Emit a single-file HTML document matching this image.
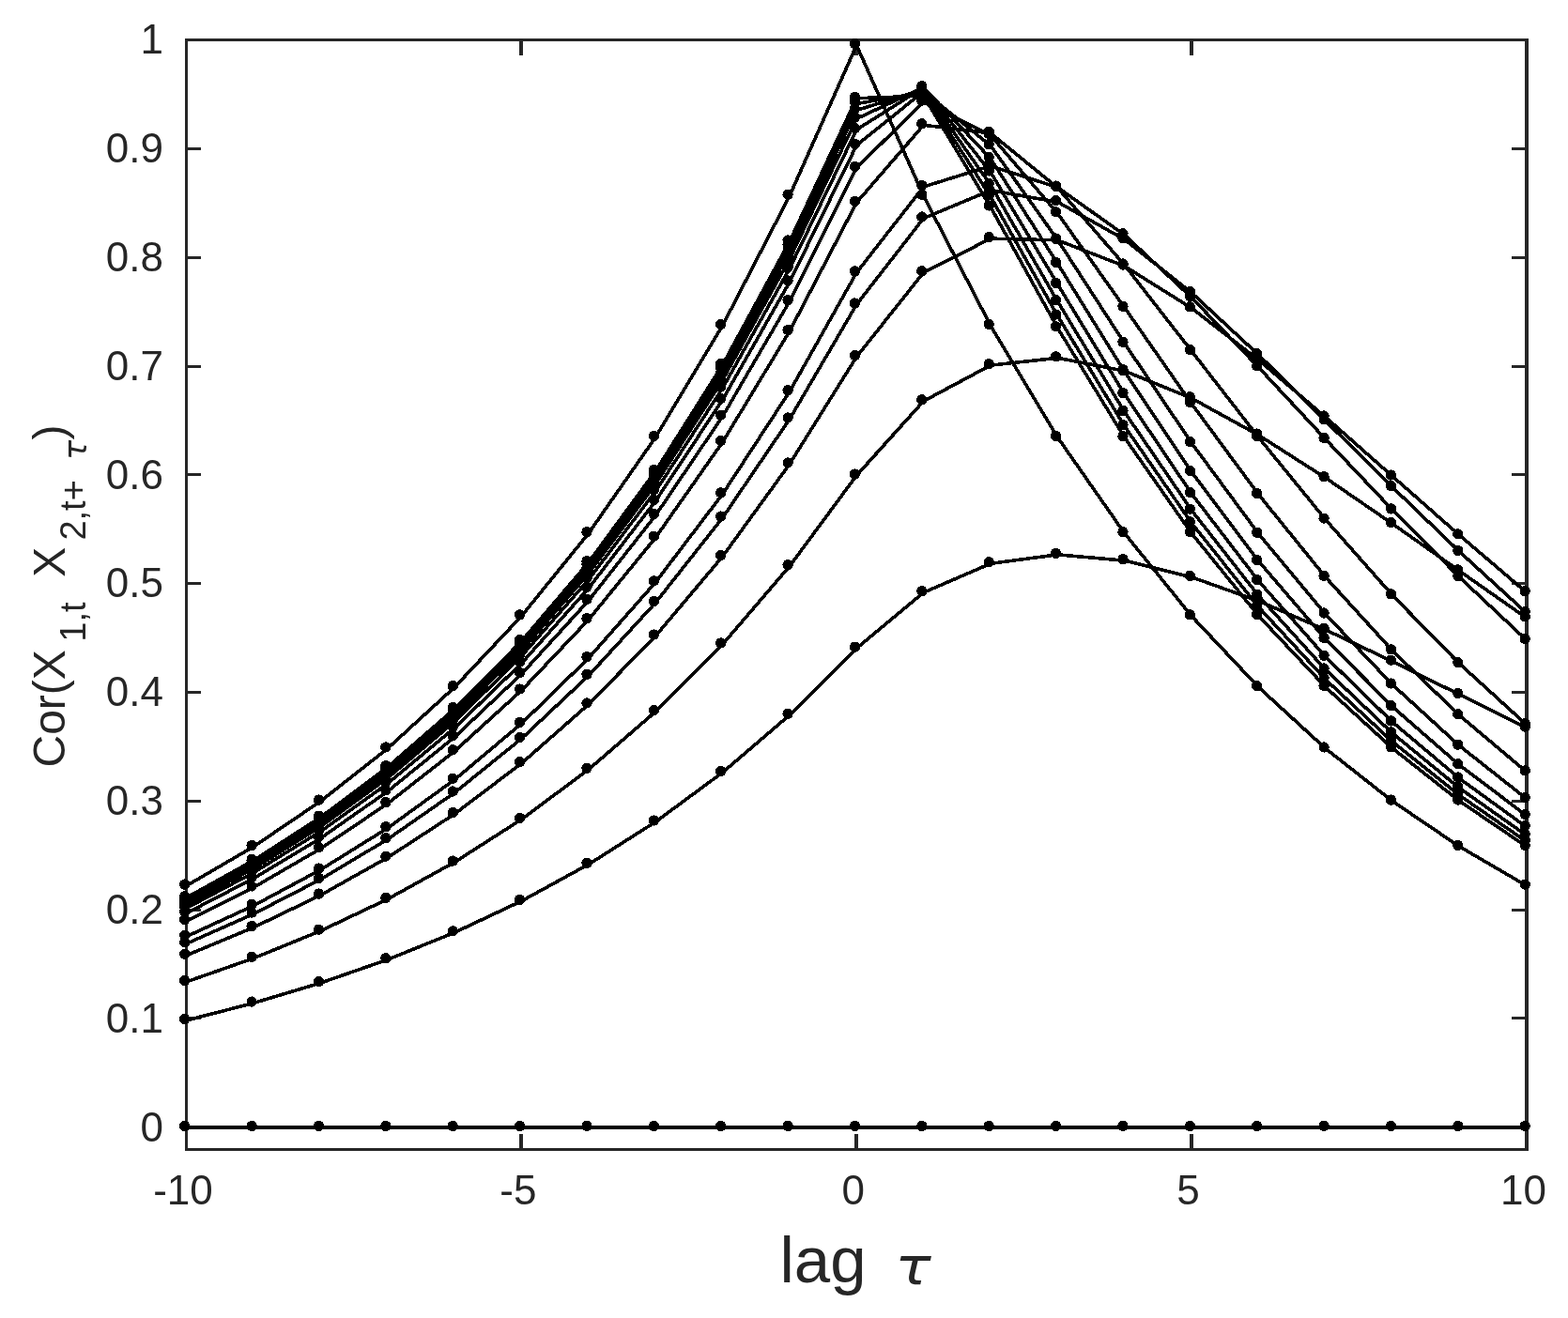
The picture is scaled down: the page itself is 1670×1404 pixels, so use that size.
<!DOCTYPE html>
<html lang="en">
<head>
<meta charset="utf-8">
<title>Cross-correlation vs lag</title>
<style>
html,body{margin:0;padding:0;background:#fff;}
body{width:1670px;height:1404px;overflow:hidden;}
svg{display:block;}
text{font-family:"Liberation Sans","DejaVu Sans",sans-serif;fill:#262626;}
.tk{font-size:44px;}
.ln{stroke:#000;stroke-width:3.6;fill:none;stroke-linejoin:miter;stroke-linecap:butt;}
.dt{fill:#000;}
</style>
</head>
<body>
<svg width="1670" height="1404" viewBox="0 0 1670 1404">
<rect x="0" y="0" width="1670" height="1404" fill="#fff"/>
<g fill="#262626" shape-rendering="crispEdges">
<rect x="197" y="41" width="1431" height="3"/>
<rect x="197" y="1223" width="1431" height="3"/>
<rect x="197" y="41" width="3" height="1185"/>
<rect x="1624" y="41" width="4" height="1185"/>
<rect x="553" y="1208" width="4" height="15"/><rect x="553" y="44" width="4" height="15"/>
<rect x="910" y="1208" width="4" height="15"/><rect x="910" y="44" width="4" height="15"/>
<rect x="1267" y="1208" width="4" height="15"/><rect x="1267" y="44" width="4" height="15"/>
<rect x="200" y="1199" width="14" height="3"/><rect x="1610" y="1199" width="14" height="3"/>
<rect x="200" y="1083" width="14" height="3"/><rect x="1610" y="1083" width="14" height="3"/>
<rect x="200" y="968" width="14" height="3"/><rect x="1610" y="968" width="14" height="3"/>
<rect x="200" y="852" width="14" height="3"/><rect x="1610" y="852" width="14" height="3"/>
<rect x="200" y="736" width="14" height="3"/><rect x="1610" y="736" width="14" height="3"/>
<rect x="200" y="620" width="14" height="3"/><rect x="1610" y="620" width="14" height="3"/>
<rect x="200" y="504" width="14" height="3"/><rect x="1610" y="504" width="14" height="3"/>
<rect x="200" y="389" width="14" height="3"/><rect x="1610" y="389" width="14" height="3"/>
<rect x="200" y="273" width="14" height="3"/><rect x="1610" y="273" width="14" height="3"/>
<rect x="200" y="157" width="14" height="3"/><rect x="1610" y="157" width="14" height="3"/>
<rect x="200" y="41" width="14" height="3"/><rect x="1610" y="41" width="14" height="3"/>
</g>
<g class="tk" text-anchor="end">
<text x="173.95" y="1215.5">0</text>
<text x="173.95" y="1099.68">0.1</text>
<text x="173.95" y="983.86">0.2</text>
<text x="173.95" y="868.04">0.3</text>
<text x="173.95" y="752.22">0.4</text>
<text x="173.95" y="636.4">0.5</text>
<text x="173.95" y="520.58">0.6</text>
<text x="173.95" y="404.76">0.7</text>
<text x="173.95" y="288.94">0.8</text>
<text x="173.95" y="173.12">0.9</text>
<text x="173.95" y="57.3">1</text>
</g>
<g class="tk" text-anchor="middle">
<text x="194.95" y="1283.3">-10</text>
<text x="551.81" y="1283.3">-5</text>
<text x="908.67" y="1283.3">0</text>
<text x="1265.54" y="1283.3">5</text>
<text x="1622.4" y="1283.3">10</text>
</g>
<text x="830.5" y="1366" font-size="69">lag</text>
<text transform="translate(953.3 1367.6) scale(1.145 1)" font-size="55.75" style="font-family:'DejaVu Sans',sans-serif;font-style:oblique">τ</text>
<g transform="translate(69.2 817.5) rotate(-90)">
<text x="0" y="0" font-size="48">Cor(X</text>
<text x="133.8" y="22.2" font-size="38">1,t</text>
<text x="202.8" y="0" font-size="48">X</text>
<text x="241.9" y="22.2" font-size="38">2,t+</text>
<text transform="translate(327.6 22.4) scale(1.03 1)" font-size="34.2" style="font-family:'DejaVu Sans',sans-serif;font-style:oblique">τ</text>
<text x="349" y="0" font-size="48">)</text>
</g>
<g class="ln" shape-rendering="crispEdges">
<path d="M198.55 1201H1626" stroke-width="4"/>
<polyline points="198.55,1086.97 269.92,1068.55 341.29,1047.15 412.67,1022.28 484.04,993.39 555.41,959.83 626.78,920.83 698.16,875.52 769.53,822.88 840.9,761.72 912.27,690.66 983.65,631.22 1055.02,600.33 1126.39,590.85 1197.76,597.16 1269.14,614.8 1340.51,640.3 1411.88,670.96 1483.26,704.71 1554.63,739.98 1626,775.6"/>
<polyline points="198.55,1045.89 269.92,1020.82 341.29,991.69 412.67,957.85 484.04,918.53 555.41,872.85 626.78,819.78 698.16,758.12 769.53,686.48 840.9,603.24 912.27,506.53 983.65,427.29 1055.02,389.17 1126.39,381.3 1197.76,395.19 1269.14,424.3 1340.51,463.55 1411.88,509.12 1483.26,558.11 1554.63,608.38 1626,658.35"/>
<polyline points="198.55,1017.69 269.92,988.06 341.29,953.63 412.67,913.63 484.04,867.16 555.41,813.16 626.78,750.43 698.16,677.55 769.53,592.87 840.9,494.48 912.27,380.17 983.65,290.34 1055.02,254.14 1126.39,255.84 1197.76,283.52 1269.14,328.29 1340.51,383.55 1411.88,444.46 1483.26,507.56 1554.63,570.37 1626,631.24"/>
<polyline points="198.55,1005.26 269.92,973.62 341.29,936.85 412.67,894.14 484.04,844.51 555.41,786.85 626.78,719.86 698.16,642.03 769.53,551.6 840.9,446.54 912.27,324.47 983.65,232.52 1055.02,202.79 1126.39,215.2 1197.76,255.12 1269.14,311.95 1340.51,378.16 1411.88,448.44 1483.26,519.17 1554.63,587.9 1626,653.12"/>
<polyline points="198.55,997.67 269.92,964.8 341.29,926.6 412.67,882.23 484.04,830.67 555.41,770.77 626.78,701.18 698.16,620.32 769.53,526.38 840.9,417.24 912.27,290.43 983.65,198.95 1055.02,176.79 1126.39,199.63 1197.76,250.33 1269.14,316.98 1340.51,391.38 1411.88,468.04 1483.26,543.38 1554.63,615.15 1626,682.06"/>
<polyline points="198.55,981.02 269.92,945.45 341.29,904.12 412.67,856.11 484.04,800.33 555.41,735.52 626.78,660.22 698.16,572.73 769.53,471.09 840.9,353 912.27,215.79 983.65,133.26 1055.02,141.85 1126.39,200.02 1197.76,282.46 1269.14,374.05 1340.51,466.05 1411.88,553.63 1483.26,634.36 1554.63,707.25 1626,772.17"/>
<polyline points="198.55,972.75 269.92,935.85 341.29,892.97 412.67,843.15 484.04,785.27 555.41,718.03 626.78,639.9 698.16,549.12 769.53,443.66 840.9,321.13 912.27,178.77 983.65,108.62 1055.02,144.12 1126.39,227.3 1197.76,327.77 1269.14,430.1 1340.51,526.87 1411.88,614.94 1483.26,693.36 1554.63,762.29 1626,822.41"/>
<polyline points="198.55,967.41 269.92,929.64 341.29,885.75 412.67,834.77 484.04,775.53 555.41,706.71 626.78,626.75 698.16,533.85 769.53,425.91 840.9,300.51 912.27,154.81 983.65,97.41 1055.02,155.16 1126.39,255.5 1197.76,365.76 1269.14,471.96 1340.51,568.71 1411.88,654.5 1483.26,729.53 1554.63,794.67 1626,851"/>
<polyline points="198.55,963.7 269.92,925.33 341.29,880.75 412.67,828.96 484.04,768.78 555.41,698.86 626.78,617.63 698.16,523.26 769.53,413.61 840.9,286.21 912.27,138.2 983.65,93.19 1055.02,168.99 1126.39,280.81 1197.76,395.98 1269.14,502.81 1340.51,597.89 1411.88,681 1483.26,753.05 1554.63,815.27 1626,868.92"/>
<polyline points="198.55,961.08 269.92,922.29 341.29,877.21 412.67,824.84 484.04,764 555.41,693.31 626.78,611.18 698.16,515.76 769.53,404.9 840.9,276.1 912.27,126.45 983.65,93.18 1055.02,183.46 1126.39,302.77 1197.76,420.02 1269.14,526.03 1340.51,619.06 1411.88,699.76 1483.26,769.43 1554.63,829.48 1626,881.18"/>
<polyline points="198.55,959.09 269.92,919.97 341.29,874.52 412.67,821.72 484.04,760.37 555.41,689.09 626.78,606.28 698.16,510.07 769.53,398.28 840.9,268.41 912.27,117.52 983.65,95.24 1055.02,197.07 1126.39,321.17 1197.76,438.97 1269.14,543.66 1340.51,634.76 1411.88,713.48 1483.26,781.32 1554.63,839.74 1626,890.03"/>
<polyline points="198.55,957.5 269.92,918.13 341.29,872.38 412.67,819.24 484.04,757.49 555.41,685.74 626.78,602.39 698.16,505.54 769.53,393.03 840.9,262.3 912.27,110.42 983.65,98.35 1055.02,209.41 1126.39,336.48 1197.76,454.02 1269.14,557.3 1340.51,646.74 1411.88,723.87 1483.26,790.29 1554.63,847.46 1626,896.68"/>
<polyline points="198.55,956.23 269.92,916.65 341.29,870.67 412.67,817.24 484.04,755.17 555.41,683.05 626.78,599.26 698.16,501.91 769.53,388.81 840.9,257.4 912.27,104.73 983.65,102.11 1055.02,220.49 1126.39,349.31 1197.76,466.19 1269.14,568.13 1340.51,656.17 1411.88,732.01 1483.26,797.31 1554.63,853.51 1626,901.89"/>
<polyline points="198.55,943.61 269.92,901.99 341.29,853.63 412.67,797.45 484.04,732.17 555.41,656.33 626.78,568.22 698.16,465.84 769.53,346.9 840.9,208.71 912.27,48.16 983.65,208.71 1055.02,346.9 1126.39,465.84 1197.76,568.22 1269.14,656.33 1340.51,732.17 1411.88,797.45 1483.26,853.63 1554.63,901.99 1626,943.61"/>
</g>
<g class="dt" shape-rendering="crispEdges">
<circle cx="196.75" cy="1199.45" r="5.65"/><circle cx="268.12" cy="1199.45" r="5.65"/><circle cx="339.49" cy="1199.45" r="5.65"/><circle cx="410.87" cy="1199.45" r="5.65"/><circle cx="482.24" cy="1199.45" r="5.65"/><circle cx="553.61" cy="1199.45" r="5.65"/><circle cx="624.99" cy="1199.45" r="5.65"/><circle cx="696.36" cy="1199.45" r="5.65"/><circle cx="767.73" cy="1199.45" r="5.65"/><circle cx="839.1" cy="1199.45" r="5.65"/><circle cx="910.48" cy="1199.45" r="5.65"/><circle cx="981.85" cy="1199.45" r="5.65"/><circle cx="1053.22" cy="1199.45" r="5.65"/><circle cx="1124.59" cy="1199.45" r="5.65"/><circle cx="1195.96" cy="1199.45" r="5.65"/><circle cx="1267.34" cy="1199.45" r="5.65"/><circle cx="1338.71" cy="1199.45" r="5.65"/><circle cx="1410.08" cy="1199.45" r="5.65"/><circle cx="1481.46" cy="1199.45" r="5.65"/><circle cx="1552.83" cy="1199.45" r="5.65"/><circle cx="1624.2" cy="1199.45" r="5.65"/>
<circle cx="196.75" cy="1085.47" r="5.65"/><circle cx="268.12" cy="1067.05" r="5.65"/><circle cx="339.49" cy="1045.65" r="5.65"/><circle cx="410.87" cy="1020.78" r="5.65"/><circle cx="482.24" cy="991.89" r="5.65"/><circle cx="553.61" cy="958.33" r="5.65"/><circle cx="624.99" cy="919.33" r="5.65"/><circle cx="696.36" cy="874.02" r="5.65"/><circle cx="767.73" cy="821.38" r="5.65"/><circle cx="839.1" cy="760.22" r="5.65"/><circle cx="910.48" cy="689.16" r="5.65"/><circle cx="981.85" cy="629.72" r="5.65"/><circle cx="1053.22" cy="598.83" r="5.65"/><circle cx="1124.59" cy="589.35" r="5.65"/><circle cx="1195.96" cy="595.66" r="5.65"/><circle cx="1267.34" cy="613.3" r="5.65"/><circle cx="1338.71" cy="638.8" r="5.65"/><circle cx="1410.08" cy="669.46" r="5.65"/><circle cx="1481.46" cy="703.21" r="5.65"/><circle cx="1552.83" cy="738.48" r="5.65"/><circle cx="1624.2" cy="774.1" r="5.65"/>
<circle cx="196.75" cy="1044.39" r="5.65"/><circle cx="268.12" cy="1019.32" r="5.65"/><circle cx="339.49" cy="990.19" r="5.65"/><circle cx="410.87" cy="956.35" r="5.65"/><circle cx="482.24" cy="917.03" r="5.65"/><circle cx="553.61" cy="871.35" r="5.65"/><circle cx="624.99" cy="818.28" r="5.65"/><circle cx="696.36" cy="756.62" r="5.65"/><circle cx="767.73" cy="684.98" r="5.65"/><circle cx="839.1" cy="601.74" r="5.65"/><circle cx="910.48" cy="505.03" r="5.65"/><circle cx="981.85" cy="425.79" r="5.65"/><circle cx="1053.22" cy="387.67" r="5.65"/><circle cx="1124.59" cy="379.8" r="5.65"/><circle cx="1195.96" cy="393.69" r="5.65"/><circle cx="1267.34" cy="422.8" r="5.65"/><circle cx="1338.71" cy="462.05" r="5.65"/><circle cx="1410.08" cy="507.62" r="5.65"/><circle cx="1481.46" cy="556.61" r="5.65"/><circle cx="1552.83" cy="606.88" r="5.65"/><circle cx="1624.2" cy="656.85" r="5.65"/>
<circle cx="196.75" cy="1016.19" r="5.65"/><circle cx="268.12" cy="986.56" r="5.65"/><circle cx="339.49" cy="952.13" r="5.65"/><circle cx="410.87" cy="912.13" r="5.65"/><circle cx="482.24" cy="865.66" r="5.65"/><circle cx="553.61" cy="811.66" r="5.65"/><circle cx="624.99" cy="748.93" r="5.65"/><circle cx="696.36" cy="676.05" r="5.65"/><circle cx="767.73" cy="591.37" r="5.65"/><circle cx="839.1" cy="492.98" r="5.65"/><circle cx="910.48" cy="378.67" r="5.65"/><circle cx="981.85" cy="288.84" r="5.65"/><circle cx="1053.22" cy="252.64" r="5.65"/><circle cx="1124.59" cy="254.34" r="5.65"/><circle cx="1195.96" cy="282.02" r="5.65"/><circle cx="1267.34" cy="326.79" r="5.65"/><circle cx="1338.71" cy="382.05" r="5.65"/><circle cx="1410.08" cy="442.96" r="5.65"/><circle cx="1481.46" cy="506.06" r="5.65"/><circle cx="1552.83" cy="568.87" r="5.65"/><circle cx="1624.2" cy="629.74" r="5.65"/>
<circle cx="196.75" cy="1003.76" r="5.65"/><circle cx="268.12" cy="972.12" r="5.65"/><circle cx="339.49" cy="935.35" r="5.65"/><circle cx="410.87" cy="892.64" r="5.65"/><circle cx="482.24" cy="843.01" r="5.65"/><circle cx="553.61" cy="785.35" r="5.65"/><circle cx="624.99" cy="718.36" r="5.65"/><circle cx="696.36" cy="640.53" r="5.65"/><circle cx="767.73" cy="550.1" r="5.65"/><circle cx="839.1" cy="445.04" r="5.65"/><circle cx="910.48" cy="322.97" r="5.65"/><circle cx="981.85" cy="231.02" r="5.65"/><circle cx="1053.22" cy="201.29" r="5.65"/><circle cx="1124.59" cy="213.7" r="5.65"/><circle cx="1195.96" cy="253.62" r="5.65"/><circle cx="1267.34" cy="310.45" r="5.65"/><circle cx="1338.71" cy="376.66" r="5.65"/><circle cx="1410.08" cy="446.94" r="5.65"/><circle cx="1481.46" cy="517.67" r="5.65"/><circle cx="1552.83" cy="586.4" r="5.65"/><circle cx="1624.2" cy="651.62" r="5.65"/>
<circle cx="196.75" cy="996.17" r="5.65"/><circle cx="268.12" cy="963.3" r="5.65"/><circle cx="339.49" cy="925.1" r="5.65"/><circle cx="410.87" cy="880.73" r="5.65"/><circle cx="482.24" cy="829.17" r="5.65"/><circle cx="553.61" cy="769.27" r="5.65"/><circle cx="624.99" cy="699.68" r="5.65"/><circle cx="696.36" cy="618.82" r="5.65"/><circle cx="767.73" cy="524.88" r="5.65"/><circle cx="839.1" cy="415.74" r="5.65"/><circle cx="910.48" cy="288.93" r="5.65"/><circle cx="981.85" cy="197.45" r="5.65"/><circle cx="1053.22" cy="175.29" r="5.65"/><circle cx="1124.59" cy="198.13" r="5.65"/><circle cx="1195.96" cy="248.83" r="5.65"/><circle cx="1267.34" cy="315.48" r="5.65"/><circle cx="1338.71" cy="389.88" r="5.65"/><circle cx="1410.08" cy="466.54" r="5.65"/><circle cx="1481.46" cy="541.88" r="5.65"/><circle cx="1552.83" cy="613.65" r="5.65"/><circle cx="1624.2" cy="680.56" r="5.65"/>
<circle cx="196.75" cy="979.52" r="5.65"/><circle cx="268.12" cy="943.95" r="5.65"/><circle cx="339.49" cy="902.62" r="5.65"/><circle cx="410.87" cy="854.61" r="5.65"/><circle cx="482.24" cy="798.83" r="5.65"/><circle cx="553.61" cy="734.02" r="5.65"/><circle cx="624.99" cy="658.72" r="5.65"/><circle cx="696.36" cy="571.23" r="5.65"/><circle cx="767.73" cy="469.59" r="5.65"/><circle cx="839.1" cy="351.5" r="5.65"/><circle cx="910.48" cy="214.29" r="5.65"/><circle cx="981.85" cy="131.76" r="5.65"/><circle cx="1053.22" cy="140.35" r="5.65"/><circle cx="1124.59" cy="198.52" r="5.65"/><circle cx="1195.96" cy="280.96" r="5.65"/><circle cx="1267.34" cy="372.55" r="5.65"/><circle cx="1338.71" cy="464.55" r="5.65"/><circle cx="1410.08" cy="552.13" r="5.65"/><circle cx="1481.46" cy="632.86" r="5.65"/><circle cx="1552.83" cy="705.75" r="5.65"/><circle cx="1624.2" cy="770.67" r="5.65"/>
<circle cx="196.75" cy="971.25" r="5.65"/><circle cx="268.12" cy="934.35" r="5.65"/><circle cx="339.49" cy="891.47" r="5.65"/><circle cx="410.87" cy="841.65" r="5.65"/><circle cx="482.24" cy="783.77" r="5.65"/><circle cx="553.61" cy="716.53" r="5.65"/><circle cx="624.99" cy="638.4" r="5.65"/><circle cx="696.36" cy="547.62" r="5.65"/><circle cx="767.73" cy="442.16" r="5.65"/><circle cx="839.1" cy="319.63" r="5.65"/><circle cx="910.48" cy="177.27" r="5.65"/><circle cx="981.85" cy="107.12" r="5.65"/><circle cx="1053.22" cy="142.62" r="5.65"/><circle cx="1124.59" cy="225.8" r="5.65"/><circle cx="1195.96" cy="326.27" r="5.65"/><circle cx="1267.34" cy="428.6" r="5.65"/><circle cx="1338.71" cy="525.37" r="5.65"/><circle cx="1410.08" cy="613.44" r="5.65"/><circle cx="1481.46" cy="691.86" r="5.65"/><circle cx="1552.83" cy="760.79" r="5.65"/><circle cx="1624.2" cy="820.91" r="5.65"/>
<circle cx="196.75" cy="965.91" r="5.65"/><circle cx="268.12" cy="928.14" r="5.65"/><circle cx="339.49" cy="884.25" r="5.65"/><circle cx="410.87" cy="833.27" r="5.65"/><circle cx="482.24" cy="774.03" r="5.65"/><circle cx="553.61" cy="705.21" r="5.65"/><circle cx="624.99" cy="625.25" r="5.65"/><circle cx="696.36" cy="532.35" r="5.65"/><circle cx="767.73" cy="424.41" r="5.65"/><circle cx="839.1" cy="299.01" r="5.65"/><circle cx="910.48" cy="153.31" r="5.65"/><circle cx="981.85" cy="95.91" r="5.65"/><circle cx="1053.22" cy="153.66" r="5.65"/><circle cx="1124.59" cy="254" r="5.65"/><circle cx="1195.96" cy="364.26" r="5.65"/><circle cx="1267.34" cy="470.46" r="5.65"/><circle cx="1338.71" cy="567.21" r="5.65"/><circle cx="1410.08" cy="653" r="5.65"/><circle cx="1481.46" cy="728.03" r="5.65"/><circle cx="1552.83" cy="793.17" r="5.65"/><circle cx="1624.2" cy="849.5" r="5.65"/>
<circle cx="196.75" cy="962.2" r="5.65"/><circle cx="268.12" cy="923.83" r="5.65"/><circle cx="339.49" cy="879.25" r="5.65"/><circle cx="410.87" cy="827.46" r="5.65"/><circle cx="482.24" cy="767.28" r="5.65"/><circle cx="553.61" cy="697.36" r="5.65"/><circle cx="624.99" cy="616.13" r="5.65"/><circle cx="696.36" cy="521.76" r="5.65"/><circle cx="767.73" cy="412.11" r="5.65"/><circle cx="839.1" cy="284.71" r="5.65"/><circle cx="910.48" cy="136.7" r="5.65"/><circle cx="981.85" cy="91.69" r="5.65"/><circle cx="1053.22" cy="167.49" r="5.65"/><circle cx="1124.59" cy="279.31" r="5.65"/><circle cx="1195.96" cy="394.48" r="5.65"/><circle cx="1267.34" cy="501.31" r="5.65"/><circle cx="1338.71" cy="596.39" r="5.65"/><circle cx="1410.08" cy="679.5" r="5.65"/><circle cx="1481.46" cy="751.55" r="5.65"/><circle cx="1552.83" cy="813.77" r="5.65"/><circle cx="1624.2" cy="867.42" r="5.65"/>
<circle cx="196.75" cy="959.58" r="5.65"/><circle cx="268.12" cy="920.79" r="5.65"/><circle cx="339.49" cy="875.71" r="5.65"/><circle cx="410.87" cy="823.34" r="5.65"/><circle cx="482.24" cy="762.5" r="5.65"/><circle cx="553.61" cy="691.81" r="5.65"/><circle cx="624.99" cy="609.68" r="5.65"/><circle cx="696.36" cy="514.26" r="5.65"/><circle cx="767.73" cy="403.4" r="5.65"/><circle cx="839.1" cy="274.6" r="5.65"/><circle cx="910.48" cy="124.95" r="5.65"/><circle cx="981.85" cy="91.68" r="5.65"/><circle cx="1053.22" cy="181.96" r="5.65"/><circle cx="1124.59" cy="301.27" r="5.65"/><circle cx="1195.96" cy="418.52" r="5.65"/><circle cx="1267.34" cy="524.53" r="5.65"/><circle cx="1338.71" cy="617.56" r="5.65"/><circle cx="1410.08" cy="698.26" r="5.65"/><circle cx="1481.46" cy="767.93" r="5.65"/><circle cx="1552.83" cy="827.98" r="5.65"/><circle cx="1624.2" cy="879.68" r="5.65"/>
<circle cx="196.75" cy="957.59" r="5.65"/><circle cx="268.12" cy="918.47" r="5.65"/><circle cx="339.49" cy="873.02" r="5.65"/><circle cx="410.87" cy="820.22" r="5.65"/><circle cx="482.24" cy="758.87" r="5.65"/><circle cx="553.61" cy="687.59" r="5.65"/><circle cx="624.99" cy="604.78" r="5.65"/><circle cx="696.36" cy="508.57" r="5.65"/><circle cx="767.73" cy="396.78" r="5.65"/><circle cx="839.1" cy="266.91" r="5.65"/><circle cx="910.48" cy="116.02" r="5.65"/><circle cx="981.85" cy="93.74" r="5.65"/><circle cx="1053.22" cy="195.57" r="5.65"/><circle cx="1124.59" cy="319.67" r="5.65"/><circle cx="1195.96" cy="437.47" r="5.65"/><circle cx="1267.34" cy="542.16" r="5.65"/><circle cx="1338.71" cy="633.26" r="5.65"/><circle cx="1410.08" cy="711.98" r="5.65"/><circle cx="1481.46" cy="779.82" r="5.65"/><circle cx="1552.83" cy="838.24" r="5.65"/><circle cx="1624.2" cy="888.53" r="5.65"/>
<circle cx="196.75" cy="956" r="5.65"/><circle cx="268.12" cy="916.63" r="5.65"/><circle cx="339.49" cy="870.88" r="5.65"/><circle cx="410.87" cy="817.74" r="5.65"/><circle cx="482.24" cy="755.99" r="5.65"/><circle cx="553.61" cy="684.24" r="5.65"/><circle cx="624.99" cy="600.89" r="5.65"/><circle cx="696.36" cy="504.04" r="5.65"/><circle cx="767.73" cy="391.53" r="5.65"/><circle cx="839.1" cy="260.8" r="5.65"/><circle cx="910.48" cy="108.92" r="5.65"/><circle cx="981.85" cy="96.85" r="5.65"/><circle cx="1053.22" cy="207.91" r="5.65"/><circle cx="1124.59" cy="334.98" r="5.65"/><circle cx="1195.96" cy="452.52" r="5.65"/><circle cx="1267.34" cy="555.8" r="5.65"/><circle cx="1338.71" cy="645.24" r="5.65"/><circle cx="1410.08" cy="722.37" r="5.65"/><circle cx="1481.46" cy="788.79" r="5.65"/><circle cx="1552.83" cy="845.96" r="5.65"/><circle cx="1624.2" cy="895.18" r="5.65"/>
<circle cx="196.75" cy="954.73" r="5.65"/><circle cx="268.12" cy="915.15" r="5.65"/><circle cx="339.49" cy="869.17" r="5.65"/><circle cx="410.87" cy="815.74" r="5.65"/><circle cx="482.24" cy="753.67" r="5.65"/><circle cx="553.61" cy="681.55" r="5.65"/><circle cx="624.99" cy="597.76" r="5.65"/><circle cx="696.36" cy="500.41" r="5.65"/><circle cx="767.73" cy="387.31" r="5.65"/><circle cx="839.1" cy="255.9" r="5.65"/><circle cx="910.48" cy="103.23" r="5.65"/><circle cx="981.85" cy="100.61" r="5.65"/><circle cx="1053.22" cy="218.99" r="5.65"/><circle cx="1124.59" cy="347.81" r="5.65"/><circle cx="1195.96" cy="464.69" r="5.65"/><circle cx="1267.34" cy="566.63" r="5.65"/><circle cx="1338.71" cy="654.67" r="5.65"/><circle cx="1410.08" cy="730.51" r="5.65"/><circle cx="1481.46" cy="795.81" r="5.65"/><circle cx="1552.83" cy="852.01" r="5.65"/><circle cx="1624.2" cy="900.39" r="5.65"/>
<circle cx="196.75" cy="942.11" r="5.65"/><circle cx="268.12" cy="900.49" r="5.65"/><circle cx="339.49" cy="852.13" r="5.65"/><circle cx="410.87" cy="795.95" r="5.65"/><circle cx="482.24" cy="730.67" r="5.65"/><circle cx="553.61" cy="654.83" r="5.65"/><circle cx="624.99" cy="566.72" r="5.65"/><circle cx="696.36" cy="464.34" r="5.65"/><circle cx="767.73" cy="345.4" r="5.65"/><circle cx="839.1" cy="207.21" r="5.65"/><circle cx="910.48" cy="46.66" r="5.65"/><circle cx="981.85" cy="207.21" r="5.65"/><circle cx="1053.22" cy="345.4" r="5.65"/><circle cx="1124.59" cy="464.34" r="5.65"/><circle cx="1195.96" cy="566.72" r="5.65"/><circle cx="1267.34" cy="654.83" r="5.65"/><circle cx="1338.71" cy="730.67" r="5.65"/><circle cx="1410.08" cy="795.95" r="5.65"/><circle cx="1481.46" cy="852.13" r="5.65"/><circle cx="1552.83" cy="900.49" r="5.65"/><circle cx="1624.2" cy="942.11" r="5.65"/>
</g>
</svg>
</body>
</html>
